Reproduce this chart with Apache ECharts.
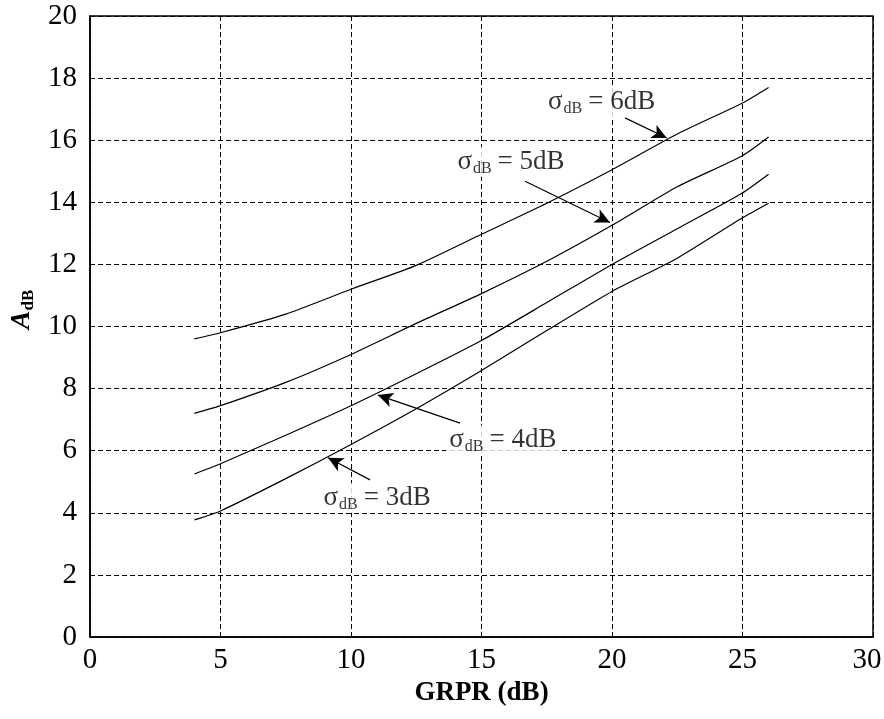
<!DOCTYPE html>
<html>
<head>
<meta charset="utf-8">
<script src="https://cdn.jsdelivr.net/npm/echarts@6/dist/echarts.min.js"></script>
<style>
html,body{margin:0;padding:0;background:#fff;}
#chart{width:884px;height:719px;}
</style>
</head>
<body>
<div id="chart"></div>
<script>
// GRPR (dB) sample points
const grpr = [4, 5, 7.5, 10, 12.5, 15, 17.5, 20, 22.5, 25, 26];
// A_dB for each sigma
const sigma6 = [9.6, 9.8, 10.4, 11.2, 11.97, 12.97, 13.97, 15.05, 16.2, 17.2, 17.7];
const sigma5 = [7.2, 7.45, 8.2, 9.1, 10.1, 11.06, 12.1, 13.26, 14.5, 15.5, 16.1];
const sigma4 = [5.25, 5.58, 6.5, 7.45, 8.48, 9.55, 10.77, 12.0, 13.15, 14.3, 14.9];
const sigma3 = [3.77, 4.06, 5.1, 6.2, 7.35, 8.58, 9.87, 11.13, 12.2, 13.5, 13.97];
// annotation texts and anchors (data coordinates)
const sigmaNames = ['6dB', '5dB', '4dB', '3dB'];
const labelAt = [[19.6, 17.23], [16.13, 15.3], [15.82, 6.34], [11.0, 4.48]];
const arrowFrom = [[20.5, 16.72], [16.67, 14.68], [14.18, 6.89], [10.73, 5.06]];
const arrowTo = [[22.1, 16.07], [19.92, 13.35], [11.03, 7.79], [9.12, 5.77]];

const serif = '"Liberation Serif", "Times New Roman", serif';
const chart = echarts.init(document.getElementById('chart'));

function curve(name, ys) {
  return {
    name: name, type: 'line', data: grpr.map((x, i) => [x, ys[i]]),
    showSymbol: false, smooth: 0.2, silent: true,
    lineStyle: {color: '#000', width: 1.2}
  };
}

const option = {
  animation: false,
  backgroundColor: '#fff',
  grid: {left: 90, right: 11, top: 16, bottom: 82, show: true, borderColor: '#000', borderWidth: 1.5,
         containLabel: false, outerBoundsMode: 'none'},
  xAxis: {
    type: 'value', min: 0, max: 30, interval: 5,
    name: 'GRPR (dB)', nameLocation: 'middle', nameGap: 38,
    nameTextStyle: {fontFamily: serif, fontWeight: 'bold', fontSize: 27, color: '#000'},
    axisLine: {show: true, lineStyle: {color: '#000', width: 1.5}},
    axisTick: {show: false},
    axisLabel: {
      fontFamily: serif, fontSize: 29, color: '#000', margin: 9,
      formatter: v => v === 30 ? '{r|30}' : String(v),
      rich: {r: {fontFamily: serif, fontSize: 29, color: '#000', padding: [0, 12, 0, 0]}}
    },
    splitLine: {show: true, lineStyle: {color: '#000', type: [5, 3], width: 1}}
  },
  yAxis: {
    type: 'value', min: 0, max: 20, interval: 2,
    name: '{a|A}{b|dB}', nameLocation: 'middle', nameGap: 50, nameRotate: 90,
    nameTextStyle: {
      padding: [0, 0, 0, 34],
      rich: {
        a: {fontFamily: serif, fontStyle: 'italic', fontWeight: 'bold', fontSize: 28, color: '#000', lineHeight: 30},
        b: {fontFamily: serif, fontWeight: 'bold', fontSize: 17, color: '#000', lineHeight: 14, verticalAlign: 'bottom'}
      }
    },
    axisLine: {show: true, lineStyle: {color: '#000', width: 1.5}},
    axisTick: {show: false},
    axisLabel: {fontFamily: serif, fontSize: 29, color: '#000', margin: 13},
    splitLine: {show: true, lineStyle: {color: '#000', type: [5, 3], width: 1}}
  },
  series: [
    curve('σ=6dB', sigma6),
    curve('σ=5dB', sigma5),
    curve('σ=4dB', sigma4),
    curve('σ=3dB', sigma3),
    {
      type: 'line', data: [], silent: true,
      markLine: {
        silent: true, symbol: ['none', 'arrow'], symbolSize: [11, 15],
        label: {show: false},
        lineStyle: {color: '#000', width: 1.2, type: 'solid'},
        emphasis: {disabled: true},
        data: arrowFrom.map((p, i) => [{coord: p}, {coord: arrowTo[i]}])
      }
    },
    {
      type: 'scatter', symbolSize: 1, silent: true, z: 10,
      itemStyle: {color: 'rgba(0,0,0,0)'},
      data: labelAt.map((p, i) => ({value: p, name: sigmaNames[i]})),
      label: {
        show: true, position: 'inside', color: '#000', textBorderWidth: 0,
        formatter: p => '{m|σ}{s|dB}{m|= ' + p.name + '}',
        backgroundColor: '#fff', padding: [0, 3, 0, 3],
        rich: {
          m: {fontFamily: serif, fontSize: 27, color: '#000', lineHeight: 30, textBorderWidth: 0},
          s: {fontFamily: serif, fontSize: 16, color: '#000', lineHeight: 14, verticalAlign: 'bottom', padding: [0, 6, 0, 1], textBorderWidth: 0}
        }
      }
    }
  ]
};
chart.setOption(option);
</script>
</body>
</html>
